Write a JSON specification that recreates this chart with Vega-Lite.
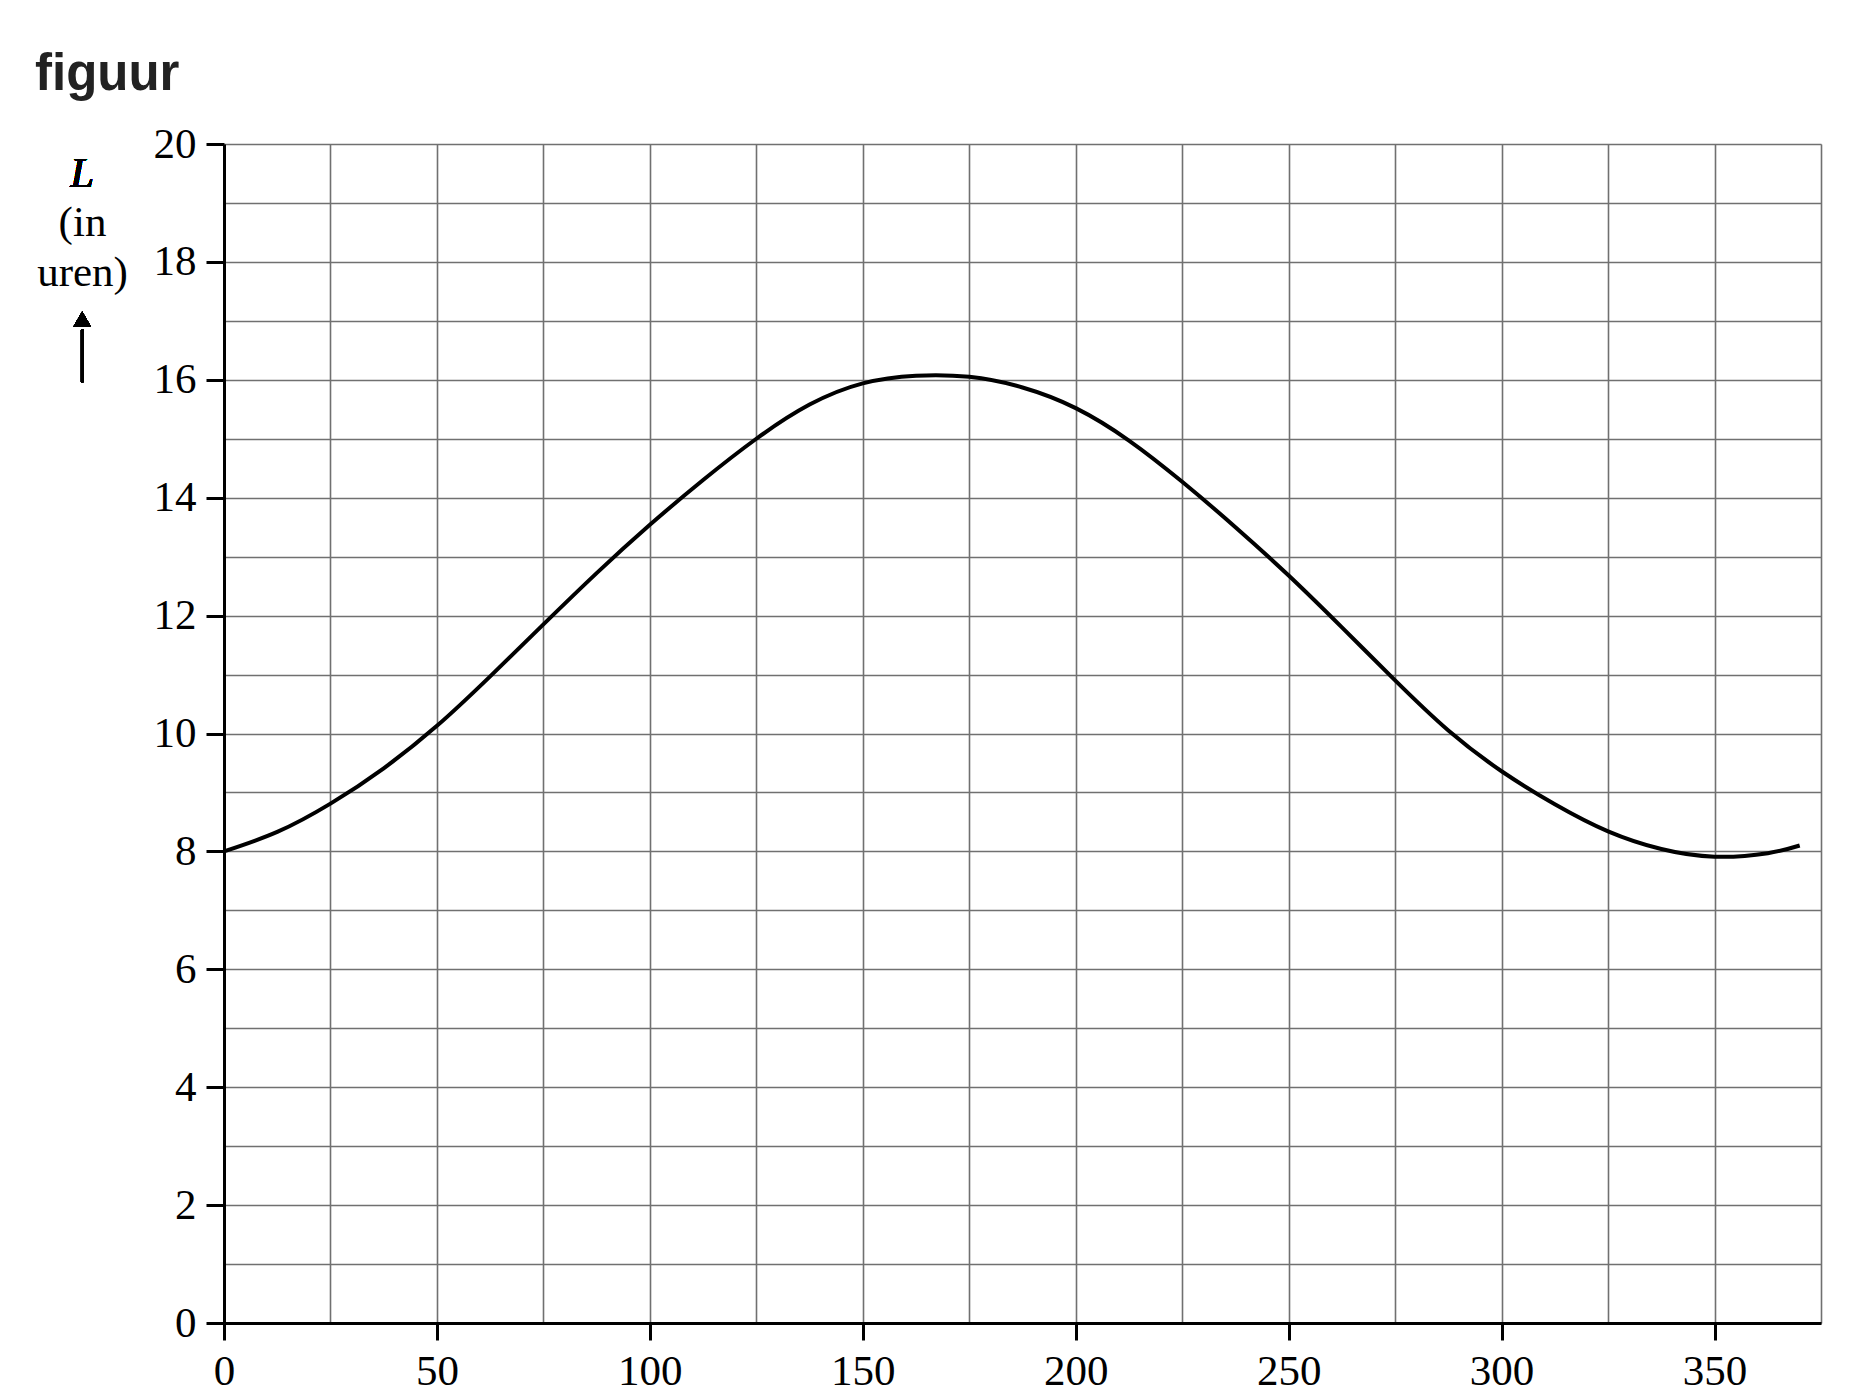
{
  "$schema": "https://vega.github.io/schema/vega-lite/v6.json",
  "autosize": {"type": "none"},
  "padding": {"left": 224, "top": 144, "right": 35, "bottom": 71},
  "width": 1597,
  "height": 1179,
  "background": "white",
  "title": {
    "text": "figuur",
    "anchor": "start",
    "frame": "group",
    "font": "Liberation Sans",
    "fontSize": 51,
    "fontWeight": "bold",
    "color": "#222222",
    "baseline": "alphabetic",
    "dx": -189,
    "dy": 58,
    "offset": 40
  },
  "data": {
    "values": [
      {"t": 0, "L": 8.0}, {"t": 12.5, "L": 8.33}, {"t": 25, "L": 8.81}, {"t": 37.5, "L": 9.41},
      {"t": 50, "L": 10.13}, {"t": 62.5, "L": 10.97}, {"t": 75, "L": 11.85}, {"t": 87.5, "L": 12.72},
      {"t": 100, "L": 13.54}, {"t": 112.5, "L": 14.3}, {"t": 125, "L": 15.0}, {"t": 137.5, "L": 15.58},
      {"t": 150, "L": 15.94}, {"t": 162.5, "L": 16.07}, {"t": 175, "L": 16.05}, {"t": 187.5, "L": 15.87},
      {"t": 200, "L": 15.52}, {"t": 212.5, "L": 14.97}, {"t": 225, "L": 14.27}, {"t": 237.5, "L": 13.5},
      {"t": 250, "L": 12.68}, {"t": 262.5, "L": 11.8}, {"t": 275, "L": 10.9}, {"t": 287.5, "L": 10.05},
      {"t": 300, "L": 9.36}, {"t": 312.5, "L": 8.8}, {"t": 325, "L": 8.34}, {"t": 337.5, "L": 8.04},
      {"t": 350, "L": 7.91}, {"t": 362.5, "L": 7.97}, {"t": 370, "L": 8.1}
    ]
  },
  "layer": [
    {
      "mark": {"type": "line", "color": "black", "strokeWidth": 4, "interpolate": "natural"},
      "encoding": {
        "x": {
          "field": "t", "type": "quantitative",
          "scale": {"domain": [0, 375], "nice": false, "zero": false},
          "axis": {
            "title": null,
            "values": [0, 25, 50, 75, 100, 125, 150, 175, 200, 225, 250, 275, 300, 325, 350, 375],
            "format": "d",
            "labelExpr": "datum.value % 50 === 0 ? datum.label : ''",
            "grid": true, "gridColor": "#707070", "gridWidth": 1.6,
            "domainColor": "black", "domainWidth": 3,
            "tickColor": "black", "tickWidth": 3, "tickSize": 17,
            "tickOpacity": {"condition": {"test": "datum.value % 50 === 0", "value": 1}, "value": 0},
            "labelFont": "Liberation Serif", "labelFontSize": 43, "labelColor": "black",
            "labelPadding": 10, "labelFlush": false, "labelOverlap": false
          }
        },
        "y": {
          "field": "L", "type": "quantitative",
          "scale": {"domain": [0, 20], "nice": false},
          "axis": {
            "title": ["(in", "uren)"],
            "titleAngle": 0, "titleAlign": "center", "titleBaseline": "alphabetic",
            "titleX": -142, "titleY": 91, "titleLineHeight": 50,
            "titleFont": "Liberation Serif", "titleFontSize": 43, "titleFontWeight": "normal", "titleColor": "black",
            "values": [0, 1, 2, 3, 4, 5, 6, 7, 8, 9, 10, 11, 12, 13, 14, 15, 16, 17, 18, 19, 20],
            "format": "d",
            "labelExpr": "datum.value % 2 === 0 ? datum.label : ''",
            "grid": true, "gridColor": "#707070", "gridWidth": 1.6,
            "domainColor": "black", "domainWidth": 3,
            "tickColor": "black", "tickWidth": 3, "tickSize": 18,
            "tickOpacity": {"condition": {"test": "datum.value % 2 === 0", "value": 1}, "value": 0},
            "labelFont": "Liberation Serif", "labelFontSize": 43, "labelColor": "black",
            "labelPadding": 10, "labelFlush": false, "labelOverlap": false
          }
        }
      }
    },
    {
      "mark": {"type": "text", "text": "L", "font": "Liberation Serif", "fontSize": 43, "fontStyle": "italic", "fontWeight": "normal", "align": "center", "baseline": "alphabetic", "color": "black"},
      "encoding": {"x": {"datum": -33.3, "type": "quantitative"}, "y": {"datum": 19.27, "type": "quantitative"}}
    },
    {
      "mark": {"type": "rule", "color": "black", "strokeWidth": 2.5},
      "encoding": {"x": {"datum": -33.3, "type": "quantitative"}, "y": {"datum": 15.96, "type": "quantitative"}, "y2": {"datum": 16.85}}
    },
    {
      "mark": {"type": "point", "shape": "triangle-up", "filled": true, "color": "black", "size": 300, "opacity": 1},
      "encoding": {"x": {"datum": -33.3, "type": "quantitative"}, "y": {"datum": 17.03, "type": "quantitative"}}
    }
  ]
}
